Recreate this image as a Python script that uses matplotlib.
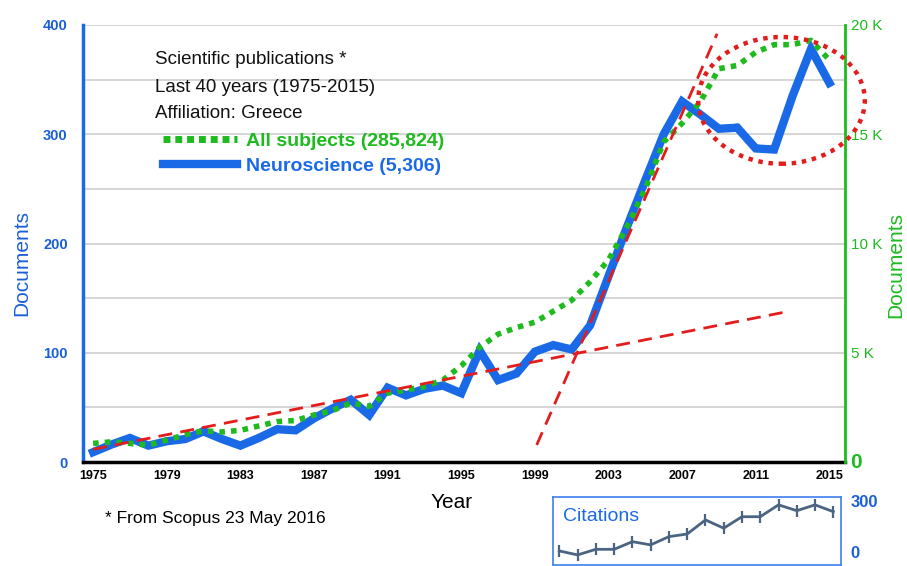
import matplotlib
matplotlib.use("Agg")
import matplotlib.pyplot as plt
from matplotlib.patches import Ellipse
from matplotlib.lines import Line2D
from matplotlib import font_manager

# ---------------- data ----------------
years = list(range(1975, 2016))
neuroscience = [9, 16, 22, 15, 19, 21, 28, 21, 15, 22,
                30, 29, 40, 49, 57, 43, 68, 61, 67, 70,
                63, 102, 75, 81, 101, 107, 103, 125, 170, 215,
                258, 300, 330, 318, 305, 306, 287, 286, 335, 378, 347]
neuro_raw = [9, 16, 22, 15, 19, 21, 32, 21, 15, 22,
             30, 29, 40, 49, 57, 43, 68, 61, 67, 71,
             65, 102, 75, 81, 101, 107, 104, 125, 170, 215,
             258, 300, 330, 318, 306, 309, 290, 287, 335, 378, 347]
all_subjects = [850, 925, 850, 775, 1000, 1250, 1425, 1375, 1450, 1650,
                1850, 1900, 2150, 2350, 2700, 2550, 3150, 3300, 3450, 3750,
                4400, 5250, 5850, 6150, 6400, 6900, 7400, 8250, 9250, 10750,
                12500, 14650, 15500, 16500, 18000, 18150, 18750, 19100, 19100, 19300, 18400]
trend_low_years = [1975, 2012.7]
trend_low_vals = [11.6, 137.6]
trend_high_years = [1999.1, 2008.9]
trend_high_vals = [15.6, 392]
circle_center = (2012.4, 331)
circle_size = (9.05, 116)

citation_years = list(range(2000, 2016))
citations = [50, 30, 58, 58, 96, 80, 121, 134, 204, 163, 220, 220, 279, 250, 279, 245]

left_ticks = [0, 50, 100, 150, 200, 250, 300, 350, 400]
left_labels = ['0', '', '100', '', '200', '', '300', '', '400']
right_ticks = [0, 5000, 10000, 15000, 20000]
right_labels = ['0', '5 K', '10 K', '15 K', '20 K']
xtick_years = list(range(1975, 2016, 4))

title_lines = ["Scientific publications *", "Last 40 years (1975-2015)", "Affiliation: Greece"]

# ---------------- style ----------------
BLUE = '#1a6ae8'
BLUE_TXT = '#1a5fd8'
GREEN = '#1dbb1d'
RED = '#e31c1c'

avail = {f.name for f in font_manager.fontManager.ttflist}
SANS = 'Liberation Sans' if 'Liberation Sans' in avail else 'DejaVu Sans'
NARROW = 'Liberation Sans Narrow' if 'Liberation Sans Narrow' in avail else SANS
plt.rcParams['font.family'] = SANS

fig = plt.figure(figsize=(9.07, 5.66), dpi=100)
W, H = 907, 566
ax = fig.add_axes([83 / W, 1 - 462 / H, (845 - 83) / W, (462 - 25) / H])
ax2 = ax.twinx()

ax.set_xlim(1974.45, 2015.85)
ax.set_ylim(0, 400)
ax2.set_ylim(0, 20000)

# grid
ax.set_yticks(left_ticks)
ax.set_yticklabels(left_labels)
ax.yaxis.grid(True, color='#d2d2d2', linewidth=1.3)
ax.set_axisbelow(True)

# blue line (bottom)
ax.plot(years, neuro_raw, color='#555a66', linewidth=1.3, zorder=2)
ax.plot(years, neuroscience, color=BLUE, linewidth=6, solid_joinstyle='miter', zorder=3)

# green dotted on twin axis
ax2.plot(years, all_subjects, color=GREEN, linewidth=4, linestyle=(0, (1, 1.1)), zorder=3)

# red dashed trend lines (left units)
ax2.plot(trend_low_years, trend_low_vals, color=RED, linewidth=2, linestyle=(0, (5, 3)),
         transform=ax.transData, zorder=4)
ax2.plot(trend_high_years, trend_high_vals, color=RED, linewidth=2, linestyle=(0, (5, 3)),
         transform=ax.transData, zorder=4)
ell = Ellipse(circle_center, circle_size[0], circle_size[1], transform=ax.transData,
              fill=False, edgecolor=RED, linewidth=3.2, linestyle=(0, (1, 1.3)), clip_on=False, zorder=5)
ax2.add_patch(ell)

# spines
for a in (ax, ax2):
    a.spines['top'].set_visible(False)
ax.spines['left'].set_color(BLUE)
ax.spines['left'].set_linewidth(2.5)
ax.spines['bottom'].set_color('black')
ax.spines['bottom'].set_linewidth(2.5)
ax.spines['right'].set_visible(False)
ax2.spines['left'].set_visible(False)
ax2.spines['bottom'].set_visible(False)
ax2.spines['right'].set_color(GREEN)
ax2.spines['right'].set_linewidth(2)

# ticks
ax.set_xticks(xtick_years)
ax.set_xticklabels([str(y) for y in xtick_years], fontfamily=NARROW, fontweight='bold', fontsize=9)
ax.tick_params(axis='x', length=0, pad=6, colors='black')
ax.tick_params(axis='y', length=0, pad=11, labelcolor=BLUE_TXT, labelsize=10.5)
for t in ax.get_yticklabels():
    t.set_fontweight('bold')

ax2.set_yticks(right_ticks)
ax2.set_yticklabels(right_labels)
ax2.tick_params(axis='y', length=0, pad=4, labelcolor=GREEN, labelsize=11)
zl = ax2.get_yticklabels()[0]
zl.set_fontsize(15)
zl.set_fontweight('bold')
zl.set_verticalalignment('center')

ax.set_ylabel('Documents', color=BLUE_TXT, fontsize=15)
ax.yaxis.set_label_coords((31 - 83) / 762, 0.455)
ax2.set_ylabel('Documents', color=GREEN, fontsize=15)
ax2.yaxis.set_label_coords((886 - 83) / 762, 0.45)

# title block
for i, line in enumerate(title_lines):
    fig.text(155 / W, 1 - (60 + 27 * i) / H, line, fontsize=13.5, color='#111111',
             ha='left', va='center')

# legend
h_all = Line2D([], [], color=GREEN, linewidth=5, linestyle=(0, (1, 0.7)))
h_neu = Line2D([], [], color=BLUE, linewidth=6)
leg = fig.legend([h_all, h_neu], ['All subjects (285,824)', 'Neuroscience (5,306)'],
                 loc='upper left', bbox_to_anchor=(163 / W, 1 - 132 / H),
                 frameon=False, borderpad=0, borderaxespad=0, handlelength=3.8,
                 handletextpad=0.45, labelspacing=0.38,
                 prop={'family': SANS, 'weight': 'bold', 'size': 14})
for txt, c in zip(leg.get_texts(), [GREEN, BLUE]):
    txt.set_color(c)

# axis title and footnote
fig.text(452 / W, 1 - 503 / H, 'Year', fontsize=15, fontfamily=NARROW, ha='center', va='center')
fig.text(105 / W, 1 - 519 / H, '* From Scopus 23 May 2016', fontsize=12.5, fontfamily=NARROW,
         ha='left', va='center')

# citations inset
ins = fig.add_axes([553 / W, 1 / H, (841 - 553) / W, (565 - 497) / H])
ins.plot(citation_years, citations, color='#4b6482', linewidth=2, marker='|',
         markersize=8, markeredgewidth=1.6)
ins.set_xlim(1999.655, 2015.42)
ins.set_ylim(-20, 318)
ins.set_xticks([])
ins.set_yticks([0, 300])
ins.yaxis.tick_right()
ins.tick_params(axis='y', length=0, pad=7, labelcolor=BLUE_TXT, labelsize=12)
for t in ins.get_yticklabels():
    t.set_fontweight('bold')
ins.get_yticklabels()[0].set_verticalalignment('bottom')
for s in ins.spines.values():
    s.set_color('#3d7ff0')
    s.set_linewidth(1.2)
ins.text(0.035, 0.72, 'Citations', transform=ins.transAxes, color=BLUE, fontsize=14,
         ha='left', va='center')

fig.savefig('out.png', dpi=100)
